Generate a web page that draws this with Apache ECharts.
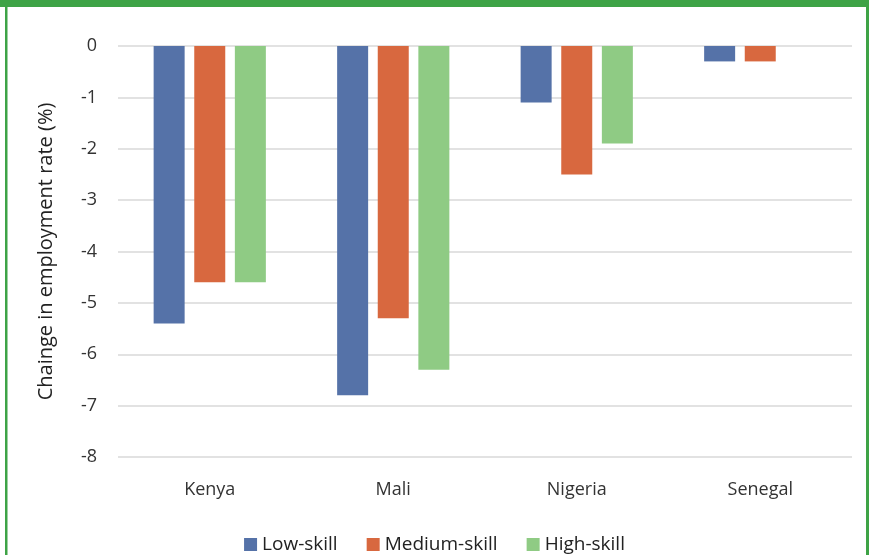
<!DOCTYPE html>
<html>
<head>
<meta charset="utf-8">
<script src="https://cdn.jsdelivr.net/npm/echarts@6/dist/echarts.min.js"></script>
<style>
  html, body { margin: 0; padding: 0; background: #fff; }
  #chart { width: 869px; height: 555px; }
</style>
</head>
<body>
<div id="chart"></div>
<script>
// Countries along the category axis
const countries = ['Kenya', 'Mali', 'Nigeria', 'Senegal'];

// Change in employment rate (%) by skill level
const lowSkill = [-5.4, -6.8, -1.1, -0.3];
const mediumSkill = [-4.6, -5.3, -2.5, -0.3];
const highSkill = [-4.6, -6.3, -1.9, null];

const seriesNames = ['Low-skill', 'Medium-skill', 'High-skill'];
const seriesColors = ['#5572A8', '#D8683F', '#8FCB84'];

const yTicks = { min: -8, max: 0, interval: 1 };

const fontFamily = '"Open Sans", "Noto Sans", sans-serif';
const frameGreen = '#3EA346';

const chart = echarts.init(document.getElementById('chart'), null, { renderer: 'canvas' });

const valuesBySeries = [lowSkill, mediumSkill, highSkill];

chart.setOption({
  animation: false,
  backgroundColor: '#ffffff',
  textStyle: { fontFamily: fontFamily },
  grid: { left: 118, right: 17, top: 46, bottom: 98, containLabel: false },
  legend: {
    bottom: -4,
    left: 'center',
    itemWidth: 13,
    itemHeight: 13,
    itemGap: 29,
    icon: 'rect',
    textStyle: { fontSize: 19, color: '#222', fontFamily: fontFamily },
    data: seriesNames
  },
  xAxis: {
    type: 'category',
    data: countries,
    position: 'bottom',
    axisLine: { show: false, onZero: false },
    axisTick: { show: false },
    axisLabel: { margin: 24, fontSize: 18, color: '#333', fontFamily: fontFamily }
  },
  yAxis: {
    type: 'value',
    min: yTicks.min,
    max: yTicks.max,
    interval: yTicks.interval,
    name: 'Chainge in employment rate (%)',
    nameLocation: 'middle',
    nameGap: 62,
    nameTextStyle: { fontSize: 20, color: '#222', fontFamily: fontFamily },
    axisLine: { show: false },
    axisTick: { show: false },
    axisLabel: { margin: 21, fontSize: 18, color: '#333', fontFamily: fontFamily },
    splitLine: { lineStyle: { color: '#d9d9d9', width: 1.5 } }
  },
  series: seriesNames.map((name, i) => ({
    name: name,
    type: 'bar',
    data: valuesBySeries[i],
    barWidth: 31,
    barGap: '31%',
    itemStyle: { color: seriesColors[i] }
  })),
  graphic: [
    { type: 'rect', shape: { x: 0, y: 0, width: 869, height: 7 }, style: { fill: frameGreen }, silent: true },
    { type: 'rect', shape: { x: 5, y: 0, width: 2.5, height: 555 }, style: { fill: frameGreen }, silent: true },
    { type: 'rect', shape: { x: 866, y: 0, width: 3, height: 555 }, style: { fill: frameGreen }, silent: true }
  ]
});
</script>
</body>
</html>
